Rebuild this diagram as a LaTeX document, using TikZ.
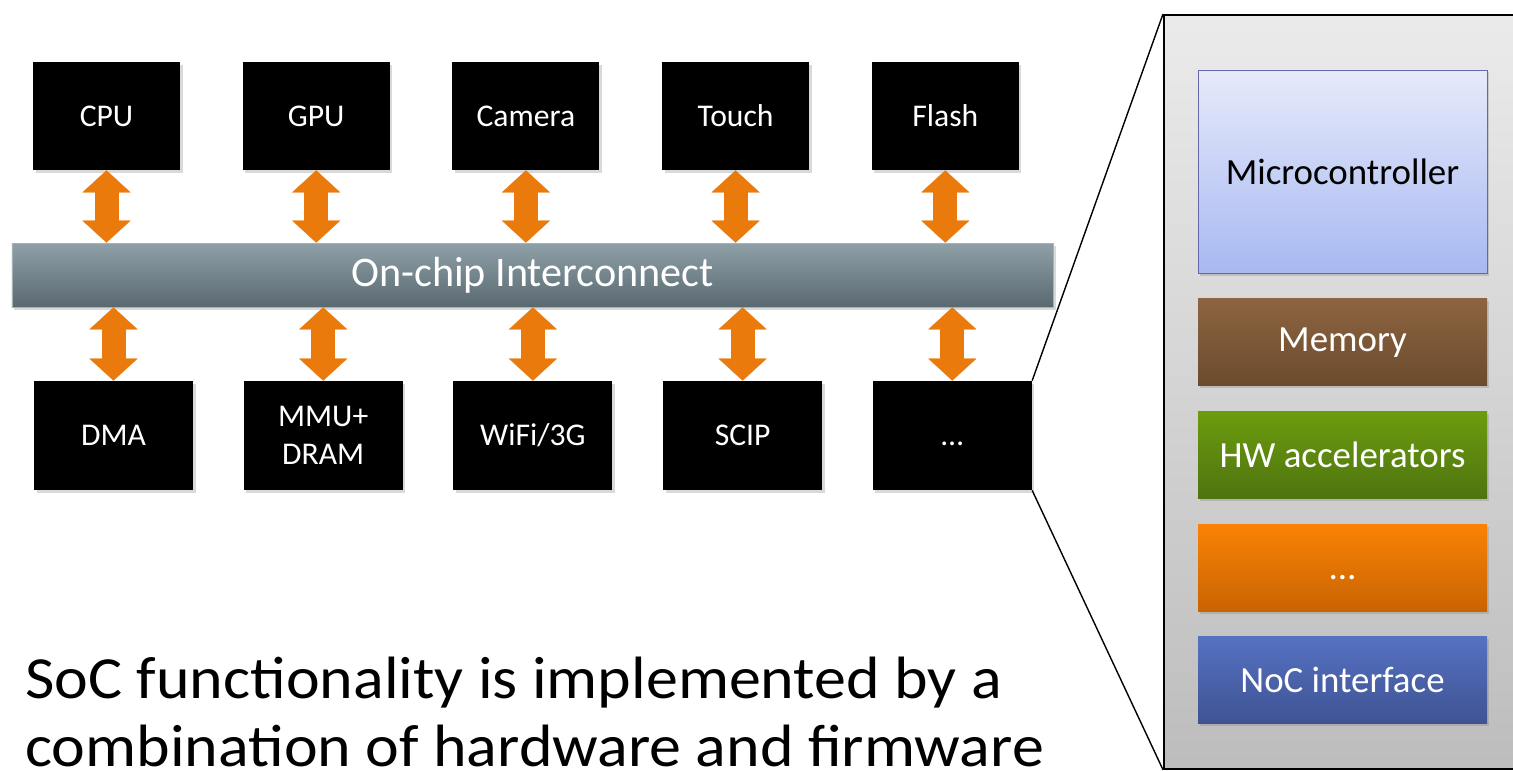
\documentclass[tikz,border=0pt]{standalone}
\usepackage{fontspec}
\setmainfont{Carlito}
\newfontfamily\widefont[FakeStretch=1.07]{Carlito}
\usetikzlibrary{arrows.meta,positioning,shadows}

\definecolor{linkorange}{HTML}{E97A0B}
\definecolor{bustop}{HTML}{8FA0A8}
\definecolor{busbot}{HTML}{5A6970}

\begin{document}
\begin{tikzpicture}[
  node distance=5mm and 12.4mm,
  ip/.style={fill=black, text=white, minimum width=2.94cm, minimum height=2.16cm,
    align=center, font=\fontsize{18}{21.5}\selectfont,
    drop shadow={opacity=0.3, shadow xshift=0.5mm, shadow yshift=-0.6mm}},
  lowip/.style={ip, minimum width=3.18cm, minimum height=2.18cm},
  link/.style={line width=4.8mm, draw=linkorange,
    {Triangle[length=4.4mm, width=9.6mm, line width=0.1pt]}-{Triangle[length=4.4mm, width=9.6mm, line width=0.1pt]}},
  part/.style={minimum width=5.78cm, minimum height=1.74cm, text=white,
    font=\fontsize{21}{25}\selectfont,
    drop shadow={opacity=0.3, shadow xshift=0.4mm, shadow yshift=-0.5mm}}
]
\useasboundingbox (0,0) rectangle (30.26,15.4);
\clip (0,0) rectangle (30.26,15.4);

% zoomed-in subsystem
\node[draw=black, line width=1pt, top color=black!8, bottom color=black!26,
  anchor=north west, minimum width=7.4cm, minimum height=15.08cm] (zoom) at (23.26,15.12) {};

\node[part, text=black, minimum height=4.06cm, draw=blue!45!black!60,
  top color={rgb,255:red,230;green,234;blue,250}, bottom color={rgb,255:red,168;green,185;blue,242}]
  (mcu) at (26.85,11.97) {Microcontroller};
\node[part, below=of mcu, top color={rgb,255:red,141;green,100;blue,65},
  bottom color={rgb,255:red,107;green,75;blue,45}] (mem) {Memory};
\node[part, below=of mem, top color={rgb,255:red,108;green,156;blue,14},
  bottom color={rgb,255:red,78;green,116;blue,16}] (hwacc) {HW accelerators};
\node[part, below=of hwacc, top color={rgb,255:red,250;green,130;blue,5},
  bottom color={rgb,255:red,201;green,100;blue,3}] (etc) {\vphantom{H}…};
\node[part, below=of etc, top color={rgb,255:red,85;green,113;blue,193},
  bottom color={rgb,255:red,63;green,83;blue,147}] (nocif) {NoC interface};

% bus
\node[top color=bustop, bottom color=busbot, draw=bustop!80!white,
  minimum width=20.82cm, minimum height=1.28cm, text=white,
  font=\fontsize{24}{28}\selectfont,
  drop shadow={opacity=0.3, shadow xshift=0.5mm, shadow yshift=-0.6mm}]
  (bus) at (10.65,9.9) {\raisebox{-0.6mm}{On-chip Interconnect}};

% top row
\node[ip] (cpu) at (2.13,13.08) {CPU};
\node[ip, right=of cpu] (gpu) {GPU};
\node[ip, right=of gpu] (cam) {Camera};
\node[ip, right=of cam] (touch) {Touch};
\node[ip, right=of touch] (flash) {Flash};

% bottom row
\node[lowip] (dma) at (2.27,6.69) {DMA};
\node[lowip, right=10mm of dma] (mmu) {MMU+\\DRAM};
\node[lowip, right=10mm of mmu] (wifi) {WiFi/3G};
\node[lowip, right=10mm of wifi] (scip) {SCIP};
\node[lowip, right=10mm of scip] (other) {\vphantom{H}…};

% links to the bus
\draw[link] (cpu.south) -- (cpu.south |- bus.north);
\draw[link] (gpu.south) -- (gpu.south |- bus.north);
\draw[link] (cam.south) -- (cam.south |- bus.north);
\draw[link] (touch.south) -- (touch.south |- bus.north);
\draw[link] (flash.south) -- (flash.south |- bus.north);
\draw[link] (bus.south -| dma.north) -- (dma.north);
\draw[link] (bus.south -| mmu.north) -- (mmu.north);
\draw[link] (bus.south -| wifi.north) -- (wifi.north);
\draw[link] (bus.south -| scip.north) -- (scip.north);
\draw[link] (bus.south -| other.north) -- (other.north);

% zoom lines
\draw[line width=0.8pt] (other.north east) -- (zoom.north west);
\draw[line width=0.8pt] (other.south east) -- (zoom.south west);

% caption
\node[anchor=base west, inner sep=0pt, align=left, font=\widefont\fontsize{34}{38.6}\selectfont]
  (claim) at (0.5,0.08) {SoC functionality is implemented by a\\combination of hardware and firmware};
\end{tikzpicture}
\end{document}
